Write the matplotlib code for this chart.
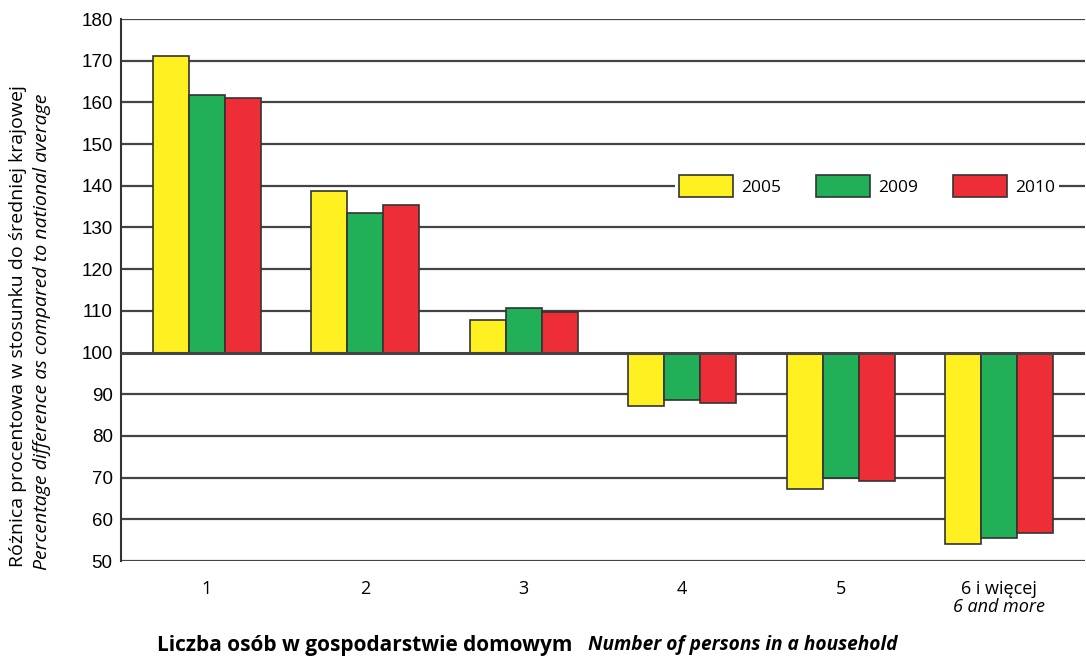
import matplotlib
matplotlib.use("Agg")
import matplotlib.pyplot as plt
import numpy as np

categories = ["1", "2", "3", "4", "5", "6 i więcej"]
categories_en = ["", "", "", "", "", "6 and more"]
years = ["2005", "2009", "2010"]
v2005 = [171.1, 138.8, 107.9, 87.1, 67.2, 54.0]
v2009 = [161.8, 133.5, 110.7, 88.5, 70.0, 55.4]
v2010 = [161.0, 135.4, 109.8, 87.9, 69.1, 56.8]
colors = ["#fff021", "#21b057", "#ee2e36"]
baseline = 100
yticks = list(range(50, 190, 10))

fig = plt.figure(figsize=(10.86, 6.59), dpi=100)
ax = fig.add_axes([121/1086, 1 - 561/659, (1085-121)/1086, (561-19)/659])

x = np.arange(len(categories))
w = 0.227
for i, (vals, c, lab) in enumerate(zip([v2005, v2009, v2010], colors, years)):
    heights = [v - baseline for v in vals]
    ax.bar(x + (i - 1) * w, heights, width=w, bottom=baseline, color=c,
           edgecolor="#333333", linewidth=1.2, label=lab, zorder=3)

for yv in yticks:
    ax.axhline(yv, color="#444444", linewidth=1.6 if yv != baseline else 2.2,
               zorder=2 if yv != baseline else 4)

ax.set_ylim(50, 180)
ax.set_xlim(-0.54, len(categories) - 1 + 0.54)
ax.set_yticks(yticks)
ax.set_yticklabels([str(t) for t in yticks], fontsize=13.5, family="Liberation Sans")
ax.tick_params(axis="y", length=0, pad=6)
ax.tick_params(axis="x", length=0, pad=14)
ax.set_xticks(x)
ax.set_xticklabels(categories, fontsize=13, family="Open Sans")
trans = ax.get_xaxis_transform()
for xi, en in zip(x, categories_en):
    if en:
        ax.text(xi, -0.068, en, transform=trans, fontsize=13, family="Open Sans",
                style="italic", ha="center", va="top")

for s in ["top", "right", "bottom"]:
    ax.spines[s].set_visible(False)
ax.spines["left"].set_linewidth(1.5)
ax.spines["left"].set_color("#333333")

fig.text(18/1086, 1 - 326/659, "Różnica procentowa w stosunku do średniej krajowej",
         rotation=90, fontsize=14, family="Open Sans", ha="center", va="center")
fig.text(42/1086, 1 - 332/659, "Percentage difference as compared to national average",
         rotation=90, fontsize=14, family="Open Sans", style="italic", ha="center", va="center")

fig.text(572/1086, 1 - 645/659, "Liczba osób w gospodarstwie domowym", fontsize=15,
         family="Open Sans", weight="bold", ha="right", va="center")
fig.text(588/1086, 1 - 645/659, "Number of persons in a household", fontsize=13.8,
         family="Open Sans", weight="bold", style="italic", ha="left", va="center")

leg = ax.legend(loc="center", bbox_to_anchor=(0.774, 0.692), ncol=3, frameon=True,
                handlelength=3.1, handleheight=1.5, columnspacing=2.0,
                handletextpad=0.5, borderpad=0.2, prop={"family": "Open Sans", "size": 12.5})
leg.get_frame().set_edgecolor("none")
leg.get_frame().set_facecolor("white")
leg.get_frame().set_alpha(1)
leg.set_zorder(5)

fig.savefig("out.png", dpi=100)
